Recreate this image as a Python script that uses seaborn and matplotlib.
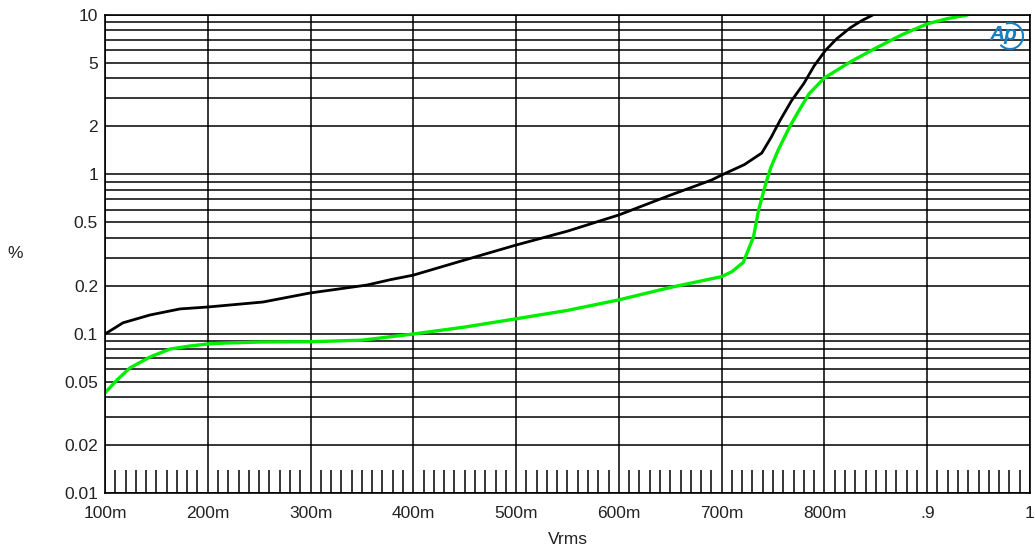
import numpy as np
import pandas as pd
import seaborn as sns
import matplotlib.pyplot as plt
from matplotlib.ticker import FixedLocator, NullFormatter
from matplotlib.patches import Arc

# Black trace: level (Vrms) vs THD+N (%)
black_v = [0.100, 0.1175, 0.1438, 0.173, 0.200, 0.2537, 0.2995, 0.355, 0.3774, 0.400,
           0.450, 0.500, 0.550, 0.600, 0.650, 0.690, 0.700, 0.722, 0.739, 0.748,
           0.757, 0.768, 0.780, 0.790, 0.801, 0.812, 0.825, 0.836, 0.847]
black_pct = [0.0995, 0.117, 0.131, 0.143, 0.147, 0.158, 0.18, 0.202, 0.218, 0.233,
             0.29, 0.36, 0.44, 0.556, 0.74, 0.92, 0.99, 1.15, 1.36, 1.7,
             2.19, 2.9, 3.72, 4.8, 6.0, 7.1, 8.3, 9.2, 10.0]

# Green trace
green_v = [0.100, 0.1117, 0.1243, 0.1438, 0.1632, 0.1827, 0.2002, 0.2168, 0.2508, 0.300,
           0.350, 0.400, 0.450, 0.500, 0.550, 0.600, 0.650, 0.700, 0.710, 0.721,
           0.731, 0.736, 0.743, 0.748, 0.755, 0.766, 0.775, 0.785, 0.800, 0.825,
           0.850, 0.875, 0.900, 0.920, 0.939]
green_pct = [0.0425, 0.0512, 0.061, 0.0714, 0.080, 0.0837, 0.0862, 0.0873, 0.0886, 0.089,
             0.091, 0.0995, 0.11, 0.124, 0.14, 0.163, 0.195, 0.228, 0.245, 0.28,
             0.405, 0.6, 0.88, 1.11, 1.42, 1.98, 2.5, 3.2, 4.03, 5.07,
             6.2, 7.5, 8.8, 9.5, 10.0]

x_ticks = [0.1, 0.2, 0.3, 0.4, 0.5, 0.6, 0.7, 0.8, 0.9, 1.0]
x_labels = ["100m", "200m", "300m", "400m", "500m", "600m", "700m", "800m", ".9", "1"]
y_ticks = [0.01, 0.02, 0.05, 0.1, 0.2, 0.5, 1, 2, 5, 10]
y_labels = ["0.01", "0.02", "0.05", "0.1", "0.2", "0.5", "1", "2", "5", "10"]

df = pd.concat([
    pd.DataFrame({"Vrms": black_v, "pct": black_pct, "trace": "A"}),
    pd.DataFrame({"Vrms": green_v, "pct": green_pct, "trace": "B"}),
])

sns.set_style("white")
plt.rcParams['font.family'] = ['Liberation Sans', 'DejaVu Sans']

fig = plt.figure(figsize=(10.35, 5.51), dpi=100)
ax = fig.add_axes([105 / 1035, 1 - 493 / 551, 925 / 1035, 478 / 551])

sns.lineplot(data=df, x="Vrms", y="pct", hue="trace", palette={"A": "black", "B": "#00ee00"},
             estimator=None, sort=False, legend=False, ax=ax)
ax.lines[0].set_linewidth(2.0)
ax.lines[1].set_linewidth(2.4)

ax.set_yscale("log")
ax.set_xlim(0.1, 1.0)
ax.set_ylim(0.01, 10)

# horizontal grid at every 1..9 x decade
minor_y = [m * 10.0 ** e for e in range(-2, 1) for m in (3, 4, 6, 7, 8, 9)]
ax.yaxis.set_major_locator(FixedLocator(y_ticks))
ax.yaxis.set_minor_locator(FixedLocator(minor_y))
ax.yaxis.set_minor_formatter(NullFormatter())
ax.set_yticklabels(y_labels)

ax.xaxis.set_major_locator(FixedLocator(x_ticks))
ax.set_xticklabels(x_labels)
ax.xaxis.set_minor_locator(FixedLocator(np.arange(0.11, 1.0, 0.01)))

ax.grid(True, which="major", axis="both", color="black", linewidth=1.1)
ax.grid(True, which="minor", axis="y", color="black", linewidth=1.1)

ax.tick_params(axis="y", which="both", left=False, length=0, pad=5, labelsize=12.5, labelcolor="#222222")
ax.tick_params(axis="x", which="major", length=0, pad=9, labelsize=12.5, labelcolor="#222222")
ax.tick_params(axis="x", which="minor", bottom=True, direction="in", length=16.5, width=1.1, color="black")

for s in ax.spines.values():
    s.set_color("black")
    s.set_linewidth(1.2)

ax.set_xlabel("")
ax.set_ylabel("")
fig.text(15 / 1035, 1 - 254 / 551, "%", fontsize=12.5, color="#222222", va="center", ha="center")
fig.text(568 / 1035, 1 - 540 / 551, "Vrms", fontsize=12.5, color="#222222", va="center", ha="center")

# Ap logo
fig.text(1003 / 1035, 1 - 35 / 551, "Ap", fontsize=15, color="#1a7fc0", style="italic",
         fontweight="bold", va="center", ha="center")
fig.add_artist(Arc((1010 / 1035, 1 - 36 / 551), 26 / 1035, 26 / 551, theta1=-120, theta2=100,
                   transform=fig.transFigure, color="#1a7fc0", linewidth=1.5))

fig.savefig("out.png", dpi=100)
